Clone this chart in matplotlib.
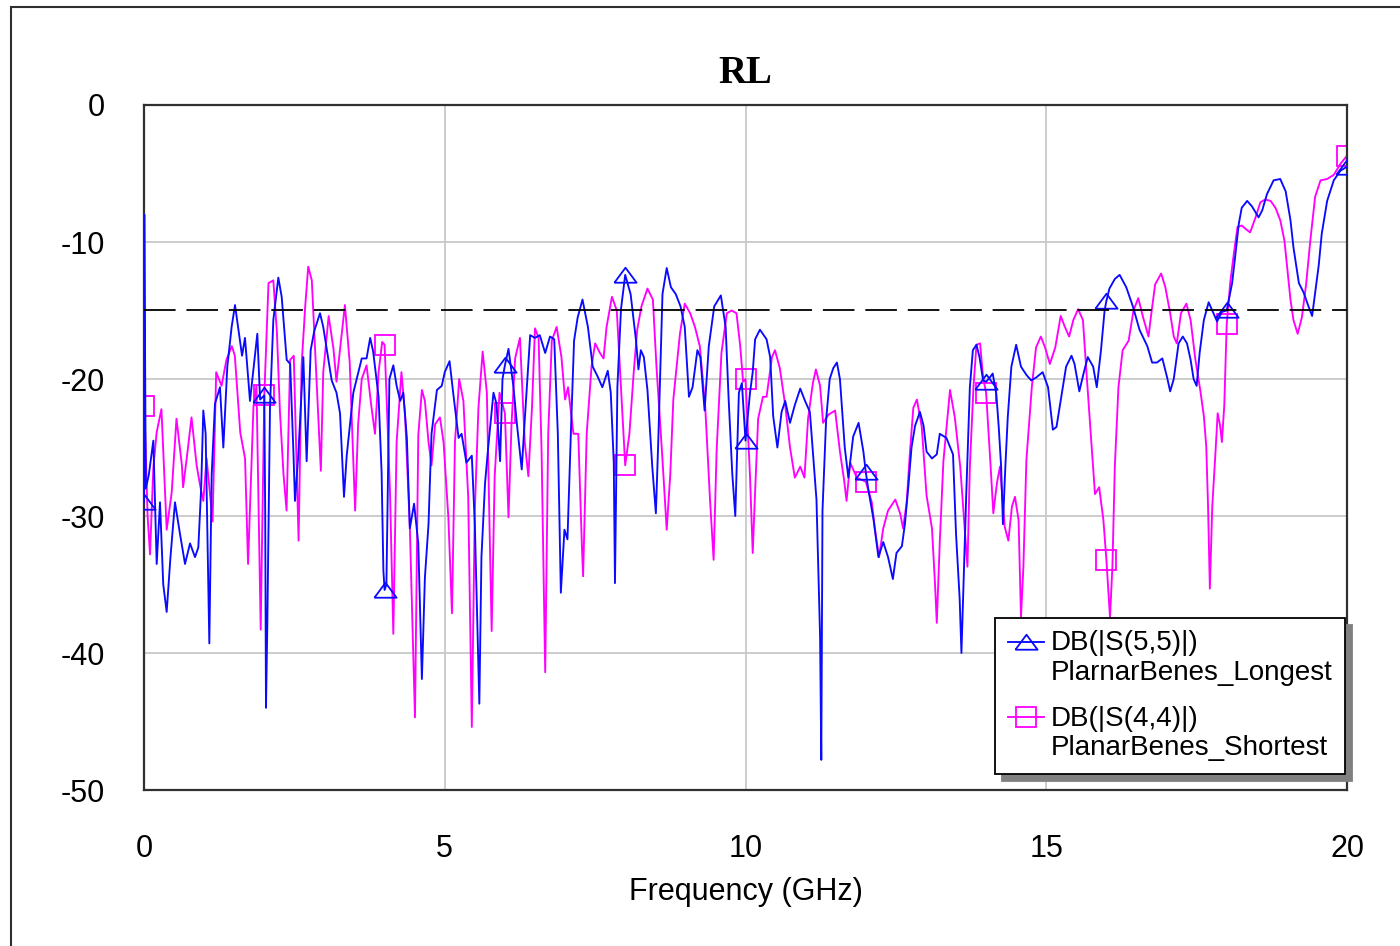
import numpy as np
import matplotlib
matplotlib.use("Agg")
import matplotlib.pyplot as plt
from matplotlib.patches import Rectangle
from matplotlib.legend_handler import HandlerLine2D

# DB(|S(5,5)|)  PlarnarBenes_Longest
s55_f = [0.0, 0.005, 0.03, 0.08, 0.155, 0.211, 0.266, 0.32, 0.377, 0.44, 0.515, 0.598, 0.682, 0.765,
         0.848, 0.903, 0.95, 0.986, 1.025, 1.086, 1.125, 1.18, 1.263, 1.319, 1.385, 1.457, 1.513, 1.585,
         1.63, 1.679, 1.762, 1.884, 1.93, 2.0, 2.015, 2.028, 2.05, 2.095, 2.15, 2.233, 2.289, 2.372,
         2.43, 2.483, 2.51, 2.566, 2.649, 2.704, 2.771, 2.83, 2.926, 2.98, 3.12, 3.2, 3.259, 3.325,
         3.37, 3.48, 3.62, 3.7, 3.76, 3.81, 3.9, 3.95, 3.98, 4.0, 4.03, 4.08, 4.145, 4.2, 4.26, 4.31,
         4.37, 4.42, 4.49, 4.56, 4.62, 4.67, 4.73, 4.78, 4.87, 4.95, 5.0, 5.08, 5.14, 5.23, 5.28, 5.36,
         5.45, 5.5, 5.54, 5.575, 5.61, 5.67, 5.72, 5.81, 5.86, 5.92, 5.96, 6.0, 6.06, 6.14, 6.2, 6.28,
         6.33, 6.42, 6.5, 6.58, 6.67, 6.75, 6.82, 6.88, 6.93, 6.99, 7.04, 7.1, 7.15, 7.21, 7.29, 7.38,
         7.46, 7.54, 7.62, 7.71, 7.76, 7.81, 7.83, 7.87, 7.93, 8.0, 8.09, 8.18, 8.22, 8.26, 8.31, 8.37,
         8.45, 8.51, 8.55, 8.62, 8.69, 8.76, 8.84, 8.92, 8.99, 9.06, 9.12, 9.2, 9.25, 9.32, 9.39, 9.48,
         9.59, 9.67, 9.72, 9.78, 9.83, 9.89, 9.94, 10.0, 10.075, 10.12, 10.16, 10.24, 10.35, 10.41,
         10.46, 10.53, 10.6, 10.66, 10.74, 10.82, 10.91, 10.99, 11.07, 11.18, 11.24, 11.26, 11.28,
         11.34, 11.4, 11.46, 11.52, 11.57, 11.65, 11.71, 11.79, 11.88, 11.96, 12.0, 12.04, 12.13, 12.21,
         12.29, 12.37, 12.45, 12.51, 12.6, 12.65, 12.71, 12.76, 12.82, 12.9, 12.96, 13.01, 13.1, 13.18,
         13.23, 13.34, 13.45, 13.5, 13.56, 13.59, 13.63, 13.67, 13.73, 13.78, 13.84, 13.89, 13.95, 14.0,
         14.06, 14.11, 14.17, 14.21, 14.25, 14.28, 14.32, 14.36, 14.42, 14.5, 14.58, 14.67, 14.75,
         14.83, 14.94, 15.03, 15.11, 15.17, 15.25, 15.33, 15.42, 15.47, 15.55, 15.62, 15.69, 15.78,
         15.84, 15.91, 15.97, 16.0, 16.05, 16.14, 16.22, 16.33, 16.44, 16.55, 16.68, 16.76, 16.84,
         16.93, 17.01, 17.06, 17.12, 17.2, 17.27, 17.34, 17.4, 17.45, 17.5, 17.55, 17.62, 17.7, 17.76,
         17.84, 17.92, 18.0, 18.09, 18.14, 18.2, 18.25, 18.34, 18.42, 18.53, 18.59, 18.67, 18.78,
         18.89, 18.98, 19.06, 19.11, 19.2, 19.28, 19.36, 19.42, 19.47, 19.53, 19.58, 19.67, 19.78,
         19.89, 20.0]
s55_db = [-29, -8, -28, -27, -24.5, -33.5, -29, -35, -37, -33, -29, -31.3, -33.5, -32,
          -33, -32.3, -28, -22.3, -24, -39.3, -27, -21.8, -20.6, -25, -19.1, -16.2, -14.6, -16.9,
          -18.3, -17, -21.6, -16.7, -21.5, -21.2, -30, -44, -38, -22, -15.7, -12.6, -14, -18.6,
          -18.9, -25.2, -28.9, -25.5, -18.4, -26, -17.9, -16.5, -15.2, -16.2, -20.1, -21, -22.5, -28.6,
          -25.6, -21, -18.5, -18.5, -17, -18, -21.3, -26.8, -34, -35.4, -35, -20, -19, -20.5, -21.6, -21,
          -24.3, -30.9, -29.1, -32, -41.9, -34.5, -30.6, -24, -20.8, -20.5, -19.5, -18.7, -21, -24.3, -24, -26.1,
          -25.6, -30.6, -37.6, -43.7, -33, -27.6, -25.1, -21, -21.8, -26, -20, -19, -17.8, -20.5, -23.3, -26.6,
          -23, -16.8, -17, -16.8, -18.1, -16.9, -17.1, -24, -35.6, -31, -31.7, -23.5, -17.2, -15.5, -14.2, -16.2,
          -19.1, -19.8, -20.6, -19.4, -21, -26.1, -34.9, -20.6, -14.9, -12.4, -13.8, -17.2, -19.3, -17.9, -18.4, -20.8,
          -26.4, -29.8, -24.5, -13.8, -11.9, -13.3, -13.8, -14.7, -16.2, -21.3, -20.6, -17.9, -18.4, -22.3, -17.6, -14.7,
          -13.9, -16.2, -21.5, -26.9, -30, -21, -20.3, -24.5, -21, -19.5, -17.1, -16.4, -17.1, -18.4,
          -22.7, -25, -22.4, -21.6, -23.2, -21.9, -20.7, -21.6, -22.4, -28.8, -38.8, -47.8, -29.6,
          -23, -20, -19.2, -18.8, -20, -25, -27.2, -24.2, -23.2, -25.3, -26.8, -28, -30.3, -33,
          -31.9, -33, -34.6, -32.7, -32.2, -30.6, -27.7, -25, -23.4, -22.4, -23.4, -25.3, -25.8, -25.5,
          -24, -24.3, -25.5, -31.3, -36, -40, -34.3, -28.4, -20.6, -17.9, -17.5, -18.4, -20.1, -20.2,
          -19.9, -19.6, -21.1, -23.5, -26.4, -30.6, -26.4, -22.8, -19.1, -17.5, -19.1, -19.7, -20.1,
          -19.9, -19.5, -20.6, -23.7, -23.5, -21.3, -19.1, -18.3, -18.9, -20.9, -19.6, -18.4, -19.1,
          -20.6, -17.9, -15, -14.3, -13.4, -12.7, -12.4, -13.3, -14.7, -16.4, -17.6, -18.8, -18.8,
          -18.5, -19.9, -20.9, -20, -17.4, -16.9, -17.4, -18.6, -20, -20.5, -18.1, -15.7, -14.4, -15,
          -15.8, -15.1, -15, -13, -11.1, -8.7, -7.5, -7, -7.4, -8.2, -7.7, -6.5, -5.5,
          -5.4, -6.3, -8.4, -10.4, -13, -13.7, -14.7, -15.4, -13.7, -11.7, -9.4, -7, -5.5,
          -4.8, -4.5]

# DB(|S(4,4)|)  PlanarBenes_Shortest
s44_f = [0.0, 0.02, 0.06, 0.1, 0.155, 0.21, 0.29, 0.377, 0.46, 0.54, 0.63, 0.65, 0.71, 0.79, 0.875,
         0.93, 0.986, 1.04, 1.1, 1.14, 1.2, 1.29, 1.37, 1.46, 1.51, 1.6, 1.68, 1.73, 1.82, 1.87, 1.94,
         2.0, 2.07, 2.15, 2.21, 2.26, 2.32, 2.37, 2.43, 2.49, 2.57, 2.62, 2.68, 2.73, 2.79, 2.87, 2.94,
         2.98, 3.07, 3.15, 3.2, 3.26, 3.34, 3.42, 3.51, 3.56, 3.62, 3.7, 3.78, 3.84, 3.9, 3.96, 4.0,
         4.03, 4.09, 4.145, 4.2, 4.28, 4.34, 4.42, 4.505, 4.56, 4.62, 4.67, 4.73, 4.78, 4.84, 4.92,
         4.98, 5.06, 5.12, 5.17, 5.24, 5.31, 5.39, 5.45, 5.5, 5.56, 5.63, 5.7, 5.78, 5.83, 5.91, 6.0,
         6.06, 6.11, 6.17, 6.25, 6.33, 6.39, 6.45, 6.5, 6.56, 6.61, 6.67, 6.72, 6.78, 6.86, 6.94, 7.0,
         7.05, 7.14, 7.22, 7.28, 7.3, 7.36, 7.44, 7.5, 7.58, 7.64, 7.69, 7.78, 7.86, 7.94, 8.0, 8.07,
         8.14, 8.2, 8.27, 8.37, 8.46, 8.52, 8.61, 8.69, 8.75, 8.8, 8.91, 8.99, 9.08, 9.16, 9.24, 9.33,
         9.41, 9.47, 9.52, 9.6, 9.69, 9.77, 9.85, 9.91, 9.96, 10.0, 10.075, 10.12, 10.16, 10.21, 10.29,
         10.35, 10.44, 10.49, 10.57, 10.66, 10.74, 10.82, 10.91, 10.98, 11.04, 11.12, 11.17, 11.24,
         11.29, 11.38, 11.49, 11.57, 11.64, 11.68, 11.74, 11.85, 12.0, 12.1, 12.15, 12.22, 12.29,
         12.37, 12.49, 12.57, 12.62, 12.68, 12.73, 12.79, 12.85, 12.93, 13.01, 13.1, 13.15, 13.18,
         13.23, 13.29, 13.4, 13.48, 13.57, 13.65, 13.69, 13.73, 13.79, 13.84, 13.9, 13.95, 14.0,
         14.07, 14.12, 14.18, 14.23, 14.31, 14.37, 14.43, 14.48, 14.54, 14.58, 14.62, 14.67, 14.76,
         14.83, 14.91, 14.98, 15.06, 15.15, 15.24, 15.31, 15.38, 15.45, 15.53, 15.61, 15.67, 15.76,
         15.81, 15.88, 15.95, 16.0, 16.06, 16.1, 16.14, 16.2, 16.27, 16.37, 16.45, 16.53, 16.61, 16.7,
         16.73, 16.81, 16.91, 16.98, 17.06, 17.12, 17.17, 17.24, 17.33, 17.4, 17.48, 17.56, 17.62,
         17.66, 17.69, 17.72, 17.76, 17.81, 17.85, 17.89, 17.92, 17.96, 18.0, 18.06, 18.12, 18.18,
         18.25, 18.33, 18.39, 18.48, 18.56, 18.64, 18.73, 18.81, 18.89, 18.96, 19.0, 19.06, 19.11,
         19.18, 19.25, 19.32, 19.39, 19.47, 19.56, 19.67, 19.78, 19.89, 20.0]
s44_db = [-22, -24, -30, -32.8, -26.5, -23.9, -22.2, -31, -28.3, -22.9, -26.3, -27.9, -25.8, -22.8, -26.3,
          -27.7, -28.9, -25.8, -28.5, -30.4, -19.5, -20.5, -18.6, -17.6, -18.3, -23.9, -25.8, -33.5, -22, -20.5, -38.3,
          -21.2, -13, -12.8, -16.6, -22.4, -27, -29.6, -18.6, -18.3, -31.8, -19, -14.7, -11.8, -12.8, -20.2, -26.7,
          -19.5, -15.4, -17.8, -20.2, -17.8, -14.6, -18.8, -29.6, -23.3, -20, -19, -22, -24, -19.5, -17.3, -17.5,
          -21, -28.3, -38.6, -24.6, -19.5, -22.6, -30.9, -44.7, -24.1, -20.8, -21.6, -24.6, -26.3, -23.3, -22.8,
          -24.6, -30.1, -37.1, -24.6, -20, -21.6, -28.6, -45.4, -29.6, -22.1, -18, -21, -38.4, -27.1, -21, -22.5,
          -30.1, -23.3, -18.5, -17, -24.6, -27.1, -22.1, -16.3, -17, -25.3, -41.4, -24, -17.2, -16.2, -18.4, -21.5,
          -20.6, -24, -24, -32.2, -34.4, -24, -19.1, -17.4, -18.1, -18.5, -16.2, -14, -15, -21.5, -26.3, -24,
          -19.6, -16.4, -14.7, -13.4, -14.2, -19.1, -25.2, -31, -26.9, -21.5, -16.7, -14.5, -15.2, -16.2, -17.6, -22,
          -28.8, -33.2, -25.2, -18.1, -15.2, -15, -15.2, -17.5, -20.2, -20, -27.1, -32.7, -28.2, -22.9, -21.3,
          -21.3, -18.4, -17.9, -19.2, -21.9, -25, -27.2, -26.4, -27.2, -22.9, -20.3, -19.3, -20.5,
          -23.2, -22.6, -22.3, -25.3, -27.4, -28.9, -26.1, -27.2, -27.5, -29, -30.9, -33, -30.9,
          -29.6, -28.8, -29.8, -30.9, -29, -25.6, -22.1, -21.5, -23.5, -28.5, -30.9, -34.9, -37.8,
          -31.9, -26, -20.8, -22.8, -26.4, -31.3, -33.7, -26.4, -20.6, -17.5, -17.4, -19.9, -21,
          -26, -29.8, -27.6, -26.4, -30.8, -31.8, -29.3, -28.6, -30.3, -37.4, -33.7, -25.9, -20.6,
          -17.7, -16.9, -17.7, -18.9, -17.7, -15.4, -16.2, -16.9, -15.7, -14.9, -15.7, -19.6, -25.2,
          -28.4, -27.9, -30.3, -33.2, -37.4, -33.7, -26.4, -20.6, -17.9, -17.2, -15, -14.1, -15.5, -16.9,
          -15.8, -13.1, -12.3, -13.3, -15.2, -16.9, -17.4, -15.2, -14.5, -15.7, -18.6, -20.8, -22.7,
          -24.9, -29.3, -35.3, -29.3, -25.6, -22.5, -23.4, -24.6, -21.9, -16, -12.9, -10.8, -8.9,
          -8.8, -9.1, -9.3, -8.2, -7.1, -6.9, -7, -7.5, -8.4, -9.9, -11.6, -14.2, -15.7,
          -16.7, -15.5, -13.1, -9.9, -6.7, -5.5, -5.4, -5.1, -4.3, -3.7]

marker_f = [0, 2, 4, 6, 8, 10, 12, 14, 16, 18, 20]
spec_limit = -15
x_ticks = [0, 5, 10, 15, 20]
y_ticks = [0, -10, -20, -30, -40, -50]

label_55 = "DB(|S(5,5)|)\nPlarnarBenes_Longest"
label_44 = "DB(|S(4,4)|)\nPlanarBenes_Shortest"

plt.rcParams['font.family'] = ['Liberation Sans', 'DejaVu Sans']
plt.rcParams['axes.unicode_minus'] = False

fig = plt.figure(figsize=(14, 9.46), dpi=100)
ax = fig.add_axes([144 / 1400, 1 - 790 / 946, (1347 - 144) / 1400, (790 - 105) / 946])

# outer frame of the graph window
fig.add_artist(Rectangle((11 / 1400, -0.1), 1.2, 1.1 - 7 / 946, transform=fig.transFigure,
                         fill=False, edgecolor='#303030', lw=1.5))

tri = [(-1, -0.65), (1, -0.65), (0, 0.7), (-1, -0.65)]


def mark_idx(f):
    f = np.round(np.asarray(f), 3)
    return [int(np.where(f == m)[0][0]) for m in marker_f]


ax.plot(s55_f, s55_db, color='#0a0aff', lw=1.35, marker=tri, ms=16, mfc='none', mec='#0a0aff',
        mew=1.3, markevery=mark_idx(s55_f), label=label_55, zorder=3)
ax.plot(s44_f, s44_db, color='#ff00ff', lw=1.35, marker='s', ms=14, mfc='none', mec='#ff00ff',
        mew=1.3, markevery=mark_idx(s44_f), label=label_44, zorder=2)

ax.axhline(spec_limit, color='black', lw=1.3, dashes=(17.5, 6), zorder=4)

ax.set_xlim(0, 20)
ax.set_ylim(-50, 0)
ax.set_xticks(x_ticks)
ax.set_yticks(y_ticks)
ax.tick_params(length=0, labelsize=22, pad=28)
ax.tick_params(axis='x', pad=32)
ax.grid(True, color='#c8c8c8', lw=1.3)
ax.set_axisbelow(True)
for s in ax.spines.values():
    s.set_color('#303030')
    s.set_linewidth(1.6)

ax.set_title("RL", family=['Liberation Serif', 'DejaVu Serif'], fontweight='bold', fontsize=28, pad=16)
ax.set_xlabel("Frequency (GHz)", fontsize=22, labelpad=9)


class HandlerTop(HandlerLine2D):
    # put the legend symbol next to the first line of a two line label
    def create_artists(self, legend, orig_handle, xdescent, ydescent, width, height, fontsize, trans):
        arts = super().create_artists(legend, orig_handle, xdescent, ydescent, width, height,
                                      fontsize, trans)
        for a in arts:
            a.set_ydata(np.asarray(a.get_ydata()) + 0.6 * fontsize)
        return arts


leg = ax.legend(loc='upper left', bbox_to_anchor=(995 / 1400, 1 - 618 / 946),
                bbox_transform=fig.transFigure, fontsize=20, frameon=True, fancybox=False,
                shadow={'color': '#808080', 'alpha': 1.0, 'ox': 5, 'oy': -5},
                framealpha=1, edgecolor='black', borderpad=0.45, handlelength=1.3,
                handletextpad=0.25, labelspacing=0.75, borderaxespad=0,
                handler_map={plt.Line2D: HandlerTop(numpoints=1)})
leg.get_frame().set_linewidth(1.3)
for t in leg.get_texts():
    t.set_linespacing(1.15)

fig.savefig("out.png", dpi=100)
